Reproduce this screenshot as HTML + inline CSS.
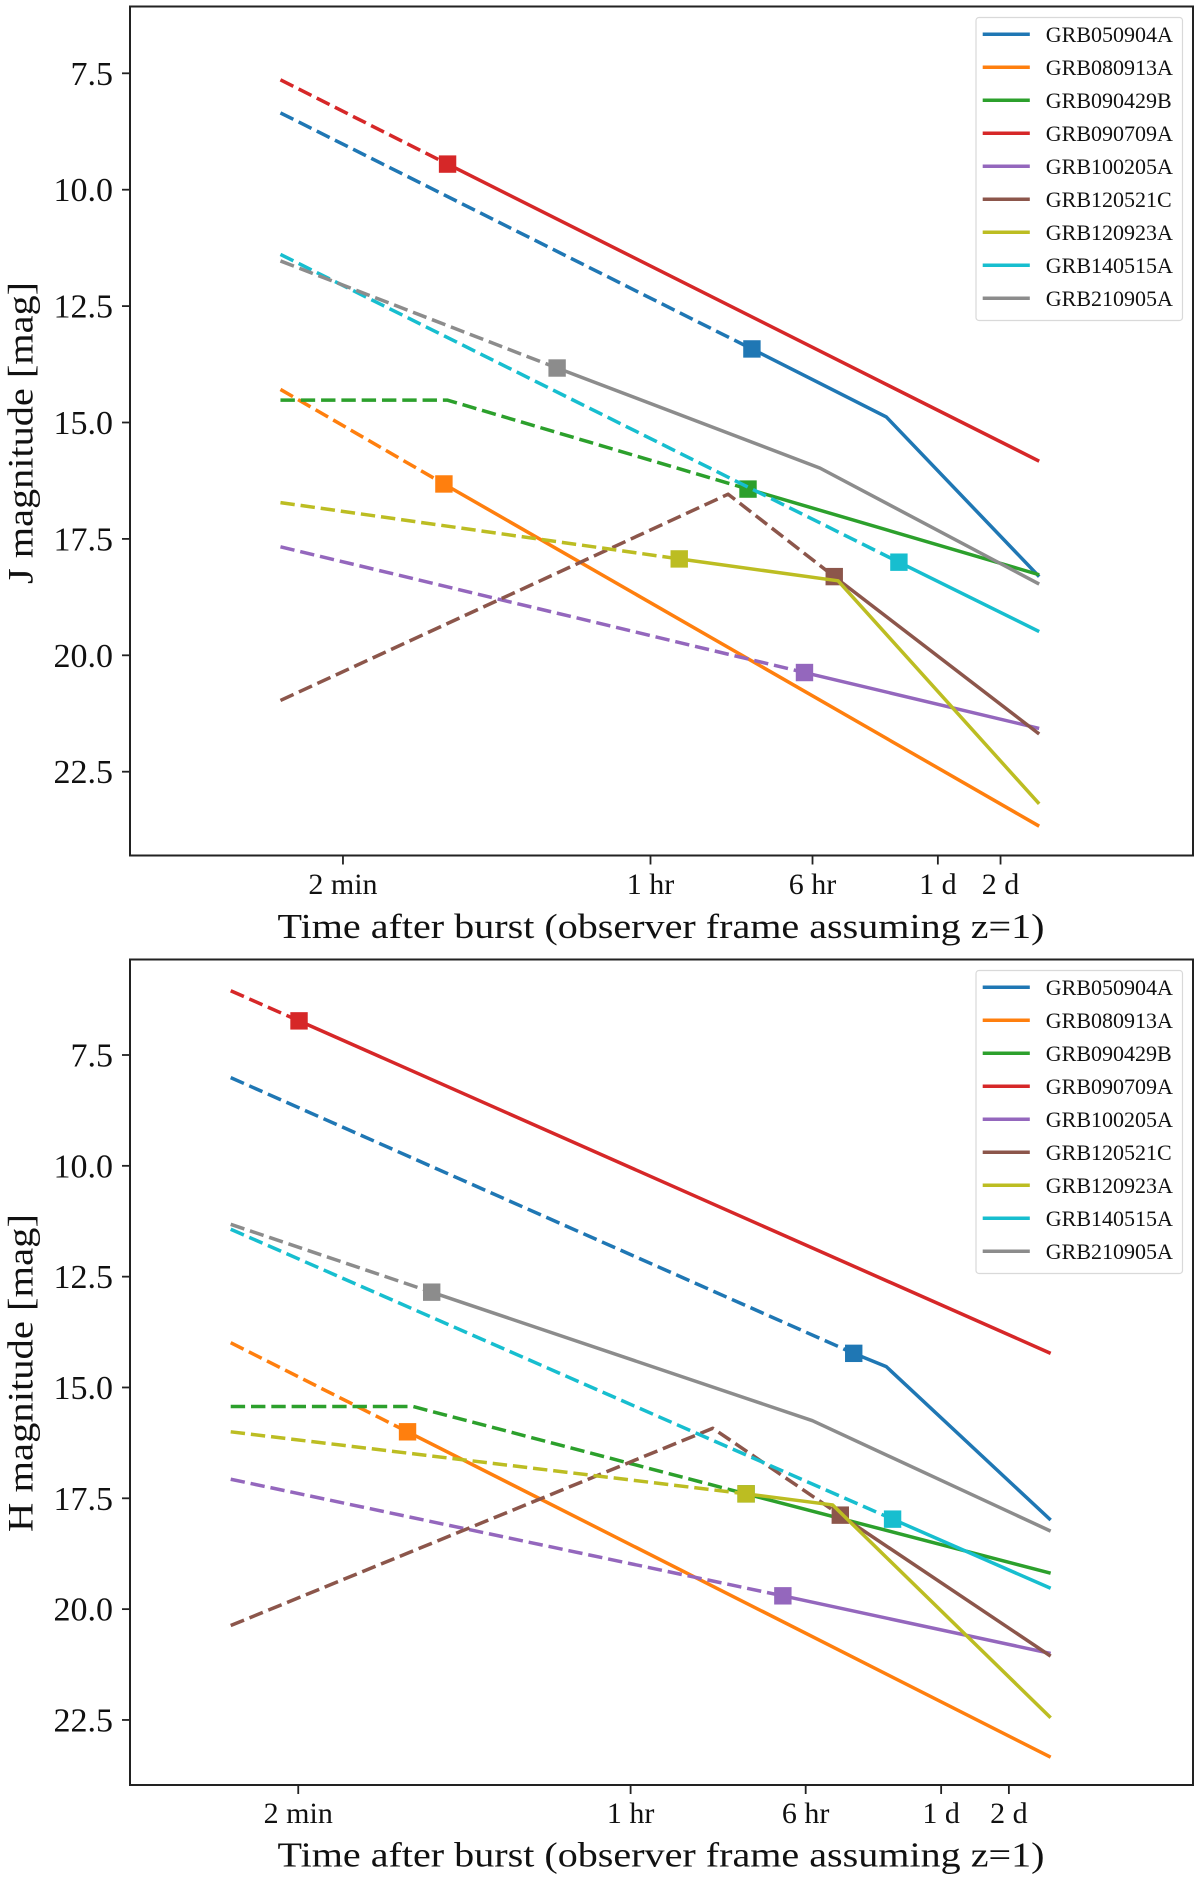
<!DOCTYPE html>
<html lang="en">
<head>
<meta charset="utf-8">
<title>GRB afterglow light curves in J and H bands</title>
<style>
html,body{margin:0;padding:0;background:#fff;width:1200px;height:1883px;overflow:hidden}
svg{display:block}
text{font-family:"Liberation Serif","DejaVu Serif",serif;fill:#111}
</style>
</head>
<body>
<svg id="chart" xmlns="http://www.w3.org/2000/svg" width="1200" height="1883" viewBox="0 0 1200 1883"></svg>
<script>
/* ---------- data ---------- */
const grbNames = ["GRB050904A","GRB080913A","GRB090429B","GRB090709A","GRB100205A","GRB120521C","GRB120923A","GRB140515A","GRB210905A"];
const palette = ["#1f77b4","#ff7f0e","#2ca02c","#d62728","#9467bd","#8c564b","#bcbd22","#17becf","#8c8c8c"];

/* times in hours after burst */
const jTimes = [
  [0.0167,3.07,13.57,73.6],
  [0.0167,0.1018,73.6],
  [0.0167,0.106,2.94,73.6],
  [0.0167,0.106,73.6],
  [0.0167,5.49,73.6],
  [0.0167,2.36,7.63,73.6],
  [0.0167,1.374,7.96,73.6],
  [0.0167,15.6,73.6],
  [0.0167,0.356,6.52,73.6]
];
const jMags = [
  [8.35,13.42,14.88,18.31],
  [14.29,16.32,23.67],
  [14.52,14.52,16.43,18.27],
  [7.64,9.45,15.83],
  [17.67,20.37,21.57],
  [20.97,16.54,18.31,21.69],
  [16.72,17.93,18.4,23.19],
  [11.39,18.0,19.49],
  [11.53,13.83,15.98,18.47]
];
const jFirstObserved = [1,1,2,1,1,2,1,1,1];

const hTimes = [
  [0.0167,9.81,13.69,73.6],
  [0.0167,0.102,73.6],
  [0.0167,0.108,3.26,73.6],
  [0.0167,0.0336,73.6],
  [0.0167,4.75,73.6],
  [0.0167,2.32,8.55,73.6],
  [0.0167,3.26,7.91,73.6],
  [0.0167,14.6,73.6],
  [0.0167,0.1306,6.43,73.6]
];
const hMags = [
  [8.01,14.23,14.53,17.99],
  [13.99,16.0,23.34],
  [15.43,15.43,17.4,19.19],
  [6.05,6.73,14.23],
  [17.07,19.7,21.0],
  [20.37,15.92,17.88,21.06],
  [16.0,17.4,17.65,22.45],
  [11.43,17.97,19.53],
  [11.32,12.85,15.75,18.24]
];
const hFirstObserved = [1,1,2,1,1,2,1,1,1];

const xTickHours = [1/30,1,6,24,48];
const xTickLabels = ["2 min","1 hr","6 hr","1 d","2 d"];
const yTickMags = [7.5,10,12.5,15,17.5,20,22.5];
const yTickLabels = ["7.5","10.0","12.5","15.0","17.5","20.0","22.5"];

/* ---------- panel geometry ---------- */
const panelJ = {key:"j",left:130,right:1193,top:6.5,bottom:855.5,x1hr:650.5,perDex:208.2,y75:73.3,perMag:46.56,
  yLabel:"J magnitude [mag]",yLabelMid:433,yLabelLen:302,tickBase:894,xLabelBase:938,
  legendTop:17.5,legendBottom:320.5,legendFirst:34.3,times:jTimes,mags:jMags,firstObs:jFirstObserved};
const panelH = {key:"h",left:130,right:1193,top:959.5,bottom:1785,x1hr:630.6,perDex:225,y75:1055,perMag:44.33,
  yLabel:"H magnitude [mag]",yLabelMid:1373,yLabelLen:318,tickBase:1823,xLabelBase:1866.5,
  legendTop:970.5,legendBottom:1273.5,legendFirst:987.3,times:hTimes,mags:hMags,firstObs:hFirstObserved};

const NS = "http://www.w3.org/2000/svg";
const root = document.getElementById("chart");
function mk(tag,parent,attrs,txt){
  const e = document.createElementNS(NS,tag);
  for(const k in attrs){e.setAttribute(k,attrs[k]);}
  if(txt!==undefined){e.textContent=txt;}
  parent.appendChild(e);
  return e;
}
function slug(s){return s.toLowerCase();}

function drawPanel(p){
  const xScale = h => p.x1hr + p.perDex*Math.log10(h);
  const yScale = m => p.y75 + (m-7.5)*p.perMag;

  const g = mk("g",root,{});
  
  

  /* series */
  grbNames.forEach((name,i)=>{
    const s = mk("g",g,{});
    
    
    const pts = p.times[i].map((t,k)=>[xScale(t),yScale(p.mags[i][k])]);
    const split = p.firstObs[i];
    const toStr = a => a.map(q=>q[0].toFixed(2)+","+q[1].toFixed(2)).join(" ");
    const dashed = mk("polyline",s,{points:toStr(pts.slice(0,split+1)),fill:"none",stroke:palette[i],"stroke-width":3.5,"stroke-dasharray":"14.4 5.9","stroke-linejoin":"round"});
    
    
    const solid = mk("polyline",s,{points:toStr(pts.slice(split)),fill:"none",stroke:palette[i],"stroke-width":3.5,"stroke-linejoin":"round"});
    
    
    const m = pts[split];
    const marker = mk("rect",s,{x:m[0]-8.7,y:m[1]-8.7,width:17.4,height:17.4,fill:palette[i]});
    
    
  });

  /* frame */
  const frame = mk("rect",g,{x:p.left,y:p.top,width:p.right-p.left,height:p.bottom-p.top,fill:"none",stroke:"#222","stroke-width":2});
  
  

  /* y ticks */
  yTickMags.forEach((v,i)=>{
    const y = yScale(v);
    const t = mk("line",g,{x1:p.left-8,x2:p.left,y1:y,y2:y,stroke:"#222","stroke-width":1.8});
    
    
    const l = mk("text",g,{x:113,y:y+11.5,"text-anchor":"end","font-size":34},yTickLabels[i]);
    
    
  });

  /* x ticks */
  xTickHours.forEach((h,i)=>{
    const x = xScale(h);
    const t = mk("line",g,{x1:x,x2:x,y1:p.bottom,y2:p.bottom+9,stroke:"#222","stroke-width":1.8});
    
    
    const l = mk("text",g,{x:x,y:p.tickBase,"text-anchor":"middle","font-size":30},xTickLabels[i]);
    
    
  });

  /* axis titles */
  const xt = mk("text",g,{x:277.5,y:p.xLabelBase,"font-size":35,textLength:767,lengthAdjust:"spacingAndGlyphs"},"Time after burst (observer frame assuming z=1)");
  
  
  const yt = mk("text",g,{x:0,y:0,"text-anchor":"middle","font-size":36,textLength:p.yLabelLen,lengthAdjust:"spacingAndGlyphs",transform:"translate(32.5,"+p.yLabelMid+") rotate(-90)"},p.yLabel);
  
  

  /* legend */
  const lg = mk("g",g,{});
  
  
  const box = mk("rect",lg,{x:976,y:p.legendTop,width:206.5,height:p.legendBottom-p.legendTop,rx:3,ry:3,fill:"#fff","fill-opacity":0.8,stroke:"#d9d9d9","stroke-width":1.2});
  
  
  grbNames.forEach((name,i)=>{
    const y = p.legendFirst + i*33;
    const entry = mk("g",lg,{});
    
    
    const sw = mk("line",entry,{x1:982.7,x2:1029.8,y1:y,y2:y,stroke:palette[i],"stroke-width":3.5});
    
    
    const tx = mk("text",entry,{x:1045.8,y:y+7.5,"font-size":22},name);
    
    
  });
}

drawPanel(panelJ);
drawPanel(panelH);
</script>
</body>
</html>
